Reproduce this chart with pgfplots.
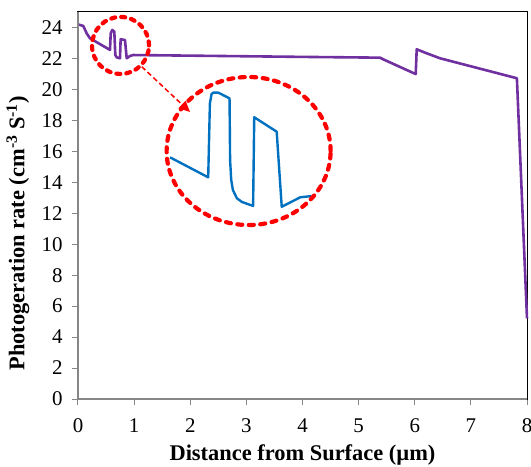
\documentclass[border=0pt]{standalone}
\usepackage{fontspec}
\setmainfont{Liberation Serif}
\usepackage{pgfplots}
\pgfplotsset{compat=1.18}
\usetikzlibrary{arrows.meta}
\definecolor{mainpurple}{RGB}{112,48,160}
\definecolor{inblue}{RGB}{0,112,192}
\definecolor{axgray}{RGB}{134,134,134}
\begin{document}
\begin{tikzpicture}
\begin{axis}[
  at={(0,0)}, anchor=south west,
  scale only axis, width=449bp, height=387bp,
  xmin=0, xmax=8, ymin=0, ymax=25,
  xtick={0,1,...,8}, ytick={0,2,...,24},
  xtick pos=bottom, ytick pos=left,
  tick align=outside, major tick length=6bp,
  tick style={axgray, line width=1bp},
  axis line style={black, line width=1bp},
  /pgf/number format/assume math mode=true,
  tick label style={font=\fontsize{21}{24}\selectfont},
  xticklabel style={yshift=-10bp},
  yticklabel style={xshift=-6bp},
  xlabel={\textbf{Distance from Surface (µm)}},
  ylabel={\textbf{Photogeration rate (cm\textsuperscript{-3} S\textsuperscript{-1})}},
  every axis x label/.style={at={(axis description cs:0.5,0)}, yshift=-56bp, anchor=center, font=\fontsize{22.5}{26}\selectfont},
  every axis y label/.style={at={(axis description cs:0,0.428)}, xshift=-60bp, rotate=90, anchor=center, font=\fontsize{22.5}{26}\selectfont},
  clip=false,
]
\addplot[mainpurple, line width=2.6bp, line join=round] coordinates {
(0,24.2) (0.094,24.10) (0.155,23.62) (0.214,23.30) (0.57,22.55)
(0.583,23.62) (0.611,23.84) (0.647,23.73) (0.665,22.22) (0.69,22.07) (0.748,22.01)
(0.76,23.24) (0.837,23.19) (0.868,22.01) (0.927,22.16) (0.985,22.22)
(2.0,22.18) (4.0,22.1) (5.38,22.05) (5.44,21.94) (6.017,20.99)
(6.035,22.59) (6.2,22.35) (6.45,22.01) (7.82,20.72) (8.0,5.21)
};
\addplot[inblue, line width=2.4bp, line join=round] coordinates {
(1.64,15.61) (2.32,14.32) (2.35,19.10) (2.38,19.70) (2.41,19.79) (2.50,19.79)
(2.70,19.42) (2.71,15.44) (2.73,14.15) (2.76,13.50) (2.83,12.97) (2.92,12.73)
(3.12,12.47) (3.14,18.20) (3.54,17.27) (3.63,12.42) (3.75,12.64) (3.96,13.03) (4.16,13.11)
};
\draw[red, line width=4.2bp, line cap=round, dash pattern=on 4bp off 6bp] (axis cs:0.757,22.84) circle [radius=28.5bp];
\draw[red, line width=4.2bp, line cap=round, dash pattern=on 5bp off 6.5bp] (axis cs:3.04,16.02) ellipse [x radius=82bp, y radius=74bp];
\draw[red, line width=1.5bp, dash pattern=on 5bp off 3bp, -{Triangle[length=11bp,width=10bp]}] (axis cs:1.135,21.47) -- (axis cs:1.996,18.54);
\draw[axgray, line width=1.2bp] (rel axis cs:0,1) -- (rel axis cs:0,0) -- (rel axis cs:1,0);
\end{axis}
\pgfresetboundingbox
\useasboundingbox (-78bp,-68bp) rectangle (453bp,399bp);
\end{tikzpicture}
\end{document}
